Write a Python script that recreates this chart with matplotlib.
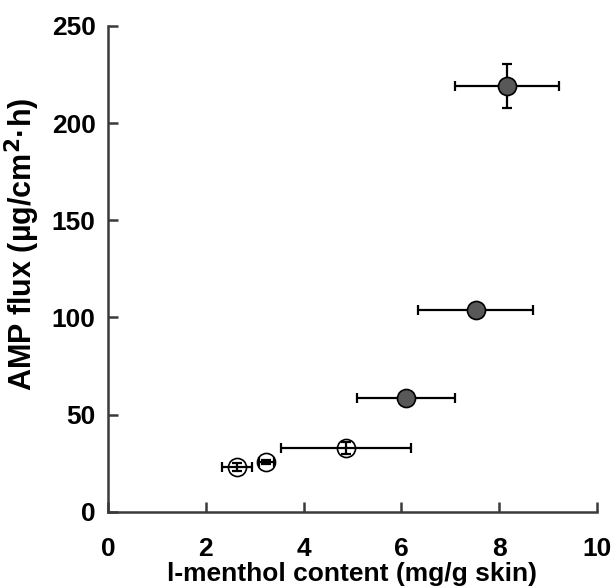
import matplotlib
matplotlib.use("Agg")
import matplotlib.pyplot as plt

plt.rcParams['font.family'] = ['Liberation Sans', 'DejaVu Sans']

# open circles
open_x = [2.64, 3.24, 4.86]
open_y = [23, 25.5, 33]
open_xerr = [0.3, 0.15, 1.33]
open_yerr = [2, 1, 3]

# filled circles
fill_x = [6.1, 7.52, 8.16]
fill_y = [58.5, 104, 219]
fill_xerr = [1.0, 1.17, 1.06]
fill_yerr = [2, 2, 11.5]

fig = plt.figure(figsize=(6.14, 5.87), dpi=100)
ax = fig.add_axes([0.176, 0.128, 0.796, 0.828])

err_kw = dict(fmt='none', ecolor='black', elinewidth=1.6, capsize=3.5, capthick=1.6)

# open points: error bars drawn across the marker
ax.plot(open_x, open_y, 'o', ms=13, mfc='white', mec='black', mew=1.2, zorder=2)
ax.errorbar(open_x, open_y, xerr=open_xerr, yerr=open_yerr, zorder=3, **err_kw)

# filled points sit on top of their bars
ax.errorbar(fill_x, fill_y, xerr=fill_xerr, yerr=fill_yerr, zorder=2, **err_kw)
ax.plot(fill_x, fill_y, 'o', ms=13, mfc='#585858', mec='black', mew=1.2, zorder=3)

ax.set_xlim(0, 10)
ax.set_ylim(0, 250)
ax.set_xticks([0, 2, 4, 6, 8, 10])
ax.set_yticks([0, 50, 100, 150, 200, 250])
for s in ['top', 'right']:
    ax.spines[s].set_visible(False)
for s in ['left', 'bottom']:
    ax.spines[s].set_linewidth(1.8)
    ax.spines[s].set_color('#3a3a3a')
ax.tick_params(direction='in', length=7, width=1.8, color='#3a3a3a', labelsize=19)
ax.tick_params(axis='y', pad=9)
ax.tick_params(axis='x', pad=18)
for lab in ax.get_xticklabels() + ax.get_yticklabels():
    lab.set_fontweight('bold')

ax.set_xlabel('l-menthol content (mg/g skin)', fontsize=19, fontweight='bold', labelpad=1)
ax.set_ylabel('AMP flux (µg/cm$^{\\mathbf{2}}$·h)', fontsize=22, fontweight='bold')
ax.yaxis.set_label_coords(-0.135, 0.55)

fig.savefig('out.png', dpi=100)
